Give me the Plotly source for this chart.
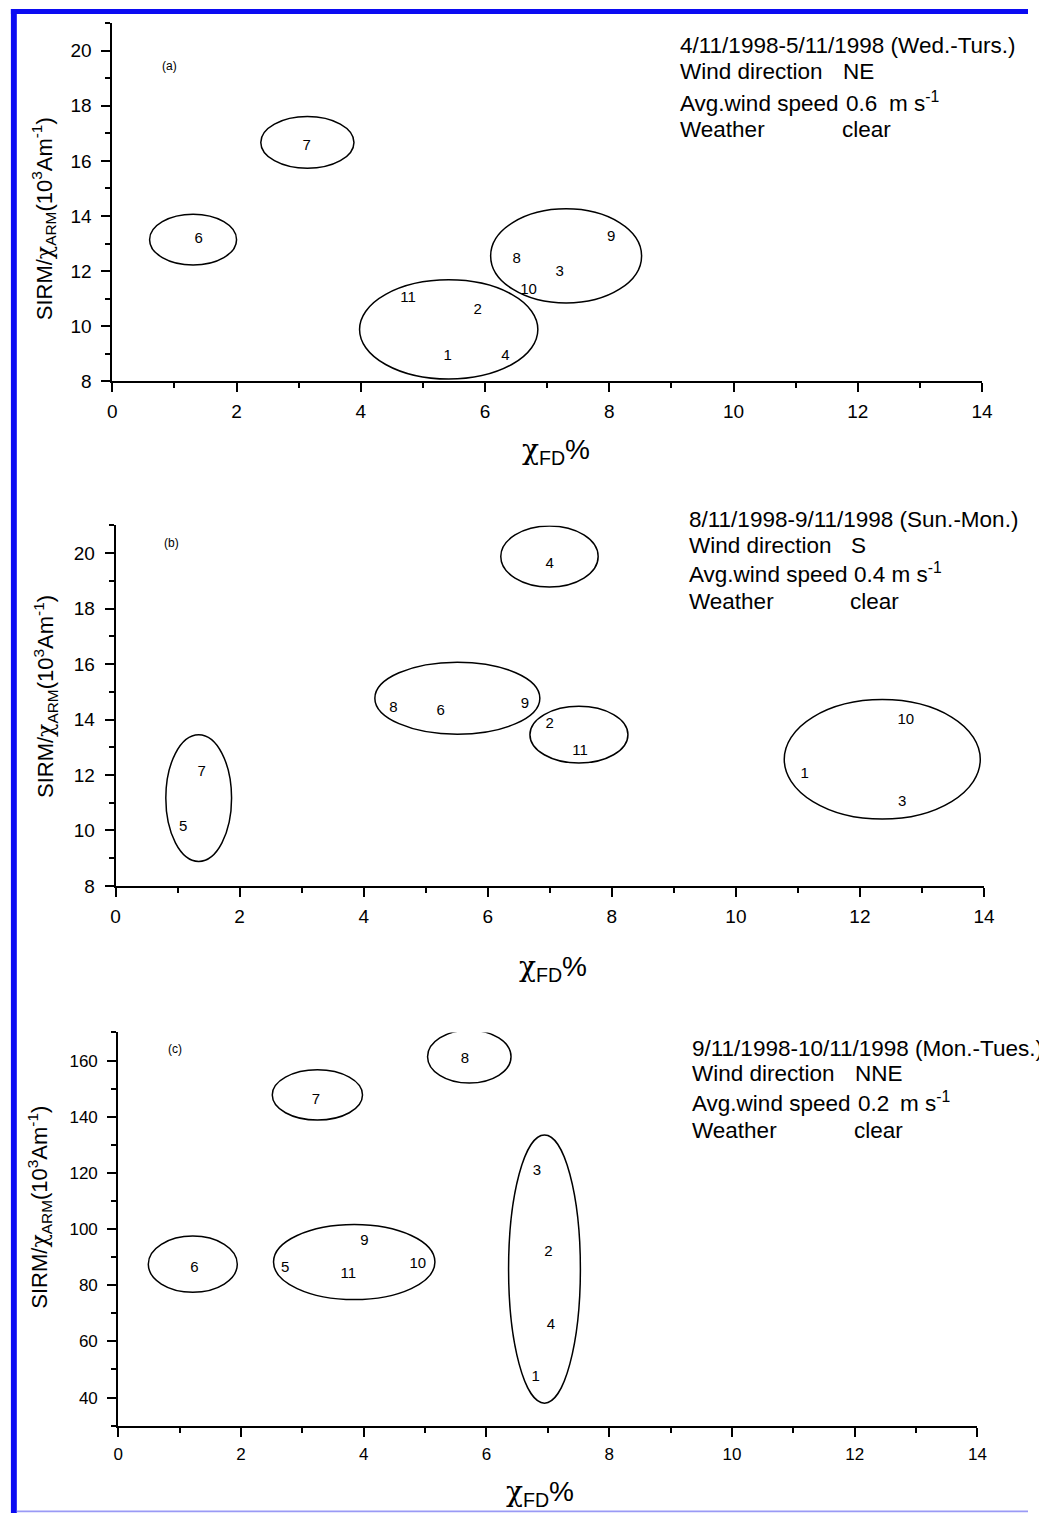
import plotly.graph_objects as go

FONT = "Liberation Sans, Arial, Helvetica, sans-serif"
W, H = 1039, 1524

# ---------------- data ----------------
# panel (a) 4/11-5/11/1998
a_labels = ["1", "2", "3", "4", "6", "7", "8", "9", "10", "11"]
a_x = [5.40, 5.88, 7.20, 6.33, 1.39, 3.13, 6.51, 8.03, 6.70, 4.76]
a_y = [8.90, 10.59, 11.96, 8.90, 13.16, 16.53, 12.44, 13.22, 11.30, 11.03]
a_ell_xmin = [0.60, 2.39, 3.98, 6.09]
a_ell_xmax = [2.00, 3.89, 6.85, 8.52]
a_ell_ymin = [12.22, 15.73, 8.08, 10.84]
a_ell_ymax = [14.06, 17.61, 11.68, 14.26]

# panel (b) 8/11-9/11/1998
b_labels = ["1", "2", "3", "4", "5", "6", "7", "8", "9", "10", "11"]
b_x = [11.11, 7.00, 12.68, 7.00, 1.09, 5.24, 1.39, 4.48, 6.60, 12.74, 7.49]
b_y = [12.04, 13.83, 11.00, 19.60, 10.11, 14.30, 12.11, 14.42, 14.55, 13.98, 12.87]
b_ell_xmin = [0.81, 4.18, 6.21, 6.68, 10.78]
b_ell_xmax = [1.87, 6.84, 7.78, 8.26, 13.94]
b_ell_ymin = [8.88, 13.47, 18.78, 12.43, 10.41]
b_ell_ymax = [13.45, 16.07, 20.98, 14.48, 14.72]

# panel (c) 9/11-10/11/1998
c_labels = ["1", "2", "3", "4", "5", "6", "7", "8", "9", "10", "11"]
c_x = [6.80, 7.01, 6.82, 7.05, 2.72, 1.24, 3.22, 5.65, 4.01, 4.88, 3.75]
c_y = [47.4, 91.6, 120.5, 65.9, 86.0, 86.0, 146.0, 160.3, 95.5, 87.5, 84.0]
c_ell_xmin = [0.49, 2.51, 5.04, 2.53, 6.36]
c_ell_xmax = [1.94, 3.98, 6.40, 5.16, 7.53]
c_ell_ymin = [77.5, 138.8, 152.0, 74.9, 38.0]
c_ell_ymax = [97.5, 156.7, 170.8, 101.6, 133.5]

panel_tags = ["(a)", "(b)", "(c)"]
dates = ["4/11/1998-5/11/1998 (Wed.-Turs.)",
         "8/11/1998-9/11/1998 (Sun.-Mon.)",
         "9/11/1998-10/11/1998 (Mon.-Tues.)"]
wind_dir = ["NE", "S", "NNE"]
wind_speed = ["0.6", "0.4", "0.2"]
speed_unit = "m s<sup>-1</sup>"
weather = ["clear", "clear", "clear"]
x_range = [0, 14]
y_ranges = [[8, 21], [8, 21], [30, 170]]
y_dticks = [2, 2, 20]

# ---------------- layout helpers ----------------
def px(x):
    return x / W

def py(y):
    return 1 - y / H

# plot boxes in pixels: left, right, top, bottom
boxes = [(109, 992.3, 23.3, 384), (112.3, 994.3, 529.3, 892.3), (115, 987.7, 1040, 1436)]

fig = go.Figure()
panels = [
    (a_labels, a_x, a_y, a_ell_xmin, a_ell_xmax, a_ell_ymin, a_ell_ymax),
    (b_labels, b_x, b_y, b_ell_xmin, b_ell_xmax, b_ell_ymin, b_ell_ymax),
    (c_labels, c_x, c_y, c_ell_xmin, c_ell_xmax, c_ell_ymin, c_ell_ymax),
]
tick_sizes = [19, 19, 17]
shapes = []
annotations = []
for i, (labs, xs, ys, ex0, ex1, ey0, ey1) in enumerate(panels):
    n = "" if i == 0 else str(i + 1)
    xa, ya = "x" + n, "y" + n
    fig.add_trace(go.Scatter(x=xs, y=ys, text=labs, mode="text", xaxis=xa, yaxis=ya,
                             textfont=dict(family=FONT, size=15, color="black"),
                             showlegend=False, hoverinfo="skip", cliponaxis=False))
    for j in range(len(ex0)):
        shapes.append(dict(type="circle", xref=xa, yref=ya, x0=ex0[j], x1=ex1[j],
                           y0=ey0[j], y1=ey1[j], line=dict(color="black", width=1.5)))
    l, r, t, b = boxes[i]
    common = dict(showline=True, linecolor="black", linewidth=2, ticks="outside",
                  tickcolor="black", tickwidth=2, ticklen=9, showgrid=False,
                  zeroline=False, tickfont=dict(family=FONT, size=tick_sizes[i], color="black"))
    fig.layout["xaxis" + n] = dict(domain=[px(l), px(r)], anchor=ya, range=x_range,
                                   tick0=0, dtick=2, ticklabelstandoff=3,
                                   minor=dict(dtick=1, ticks="outside", ticklen=5,
                                              tickwidth=1.5, tickcolor="black"),
                                   **common)
    fig.layout["yaxis" + n] = dict(domain=[py(b), py(t)], anchor=xa, range=y_ranges[i],
                                   tick0=0, dtick=y_dticks[i], ticklabelstandoff=6,
                                   minor=dict(dtick=y_dticks[i] / 2, ticks="outside", ticklen=5,
                                              tickwidth=1.5, tickcolor="black"),
                                   **common)

# ---------------- text ----------------
def ann(text, x, y, size, xanchor="left", yanchor="bottom", angle=0):
    annotations.append(dict(text=text, x=px(x), y=py(y), xref="paper", yref="paper",
                            xanchor=xanchor, yanchor=yanchor, showarrow=False,
                            textangle=angle, borderpad=0,
                            font=dict(family=FONT, size=size, color="black")))

fs = 22.5
d = 0.212 * fs
info_x = [(685, 850, 853, 897), (693.3, 858, 861.7, None), (696.7, 862.3, 865, 908)]
info_base = [(55, 81, 113, 139), (532, 558, 588, 615), (1065, 1090, 1120, 1148)]
for i in range(3):
    xl, xv, xs_, xm = info_x[i]
    b1, b2, b3, b4 = info_base[i]
    ann(dates[i], xl, b1 + d, fs)
    ann("Wind direction", xl, b2 + d, fs)
    ann(wind_dir[i], xv, b2 + d, fs)
    ann("Avg.wind speed", xl, b3 + d, fs)
    if xm is None:
        ann(wind_speed[i] + " " + speed_unit, xs_, b3 + d, fs)
    else:
        ann(wind_speed[i], xs_, b3 + d, fs)
        ann(speed_unit, xm, b3 + d, fs)
    ann("Weather", xl, b4 + d, fs)
    ann(weather[i], xv - 1, b4 + d, fs)

tag_pos = [(167.5, 66.4), (169, 547), (173, 1057)]
for i in range(3):
    ann(panel_tags[i], tag_pos[i][0], tag_pos[i][1], 12, xanchor="center", yanchor="middle")

CHI = "<span style='font-family:DejaVu Serif'>χ</span>"
ytitle = "SIRM/" + CHI + "<sub>ARM</sub>(10<sup>3</sup>Am<sup>-1</sup>)"
ytitle_pos = [(40, 220.5), (41, 701.7), (35, 1216)]
for i in range(3):
    ann(ytitle, ytitle_pos[i][0], ytitle_pos[i][1], 22, xanchor="center", yanchor="middle", angle=-90)

xtitle = CHI + "<sub>FD</sub>%"
xtitle_pos = [(559.5, 460), (557, 981), (543, 1510)]
for i in range(3):
    ann(xtitle, xtitle_pos[i][0], xtitle_pos[i][1] - 0.905 * 28, 28, xanchor="center", yanchor="top")

# ---------------- page frame ----------------
blue = "#0b0bf2"
shapes.append(dict(type="rect", xref="paper", yref="paper", x0=px(6), x1=1, y0=py(14), y1=py(9),
                   fillcolor=blue, line=dict(width=0), layer="above"))
shapes.append(dict(type="rect", xref="paper", yref="paper", x0=px(6), x1=px(12), y0=0, y1=py(9),
                   fillcolor=blue, line=dict(width=0), layer="above"))
shapes.append(dict(type="rect", xref="paper", yref="paper", x0=px(12), x1=1, y0=py(1523.2), y1=py(1521.6),
                   fillcolor="#9a9af5", line=dict(width=0), layer="above"))

fig.update_layout(width=W, height=H, margin=dict(l=0, r=0, t=0, b=0, pad=0),
                  paper_bgcolor="white", plot_bgcolor="white",
                  shapes=shapes, annotations=annotations, showlegend=False)

post = (
    "document.documentElement.style.margin='0';"
    "document.documentElement.style.overflow='hidden';"
    "document.body.style.margin='0';"
    "document.body.style.overflow='hidden';"
)
fig.write_html("out.html", config={"displayModeBar": False}, post_script=post)
